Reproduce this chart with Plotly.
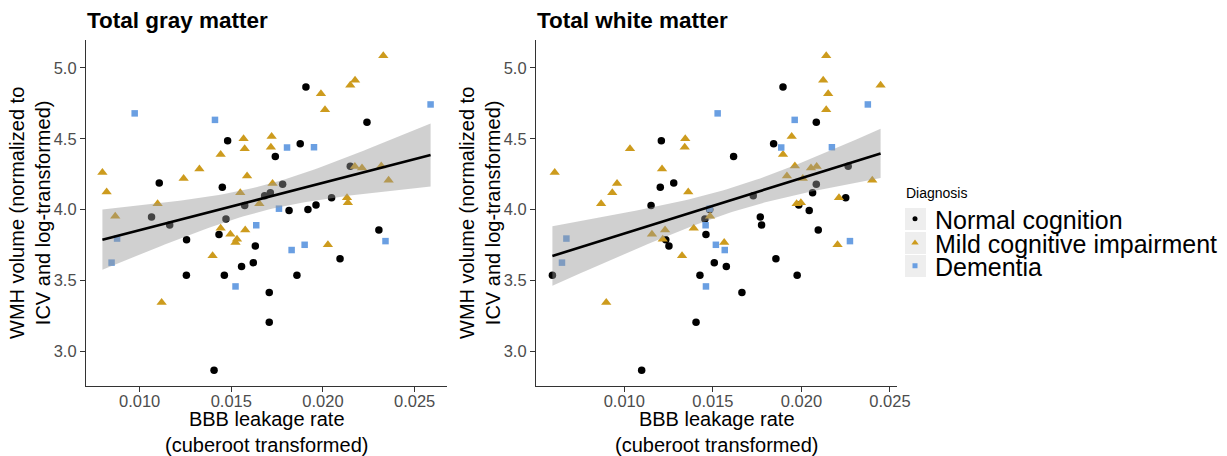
import numpy as np
import plotly.graph_objects as go

# ---------------- data ----------------
categories = ["Normal cognition", "Mild cognitive impairment", "Dementia"]

# Normal cognition
nc_gm = [0.01907, 0.01480, 0.01876, 0.01740, 0.01107, 0.01451, 0.01780, 0.01713,
         0.01682, 0.01573, 0.01815, 0.01918, 0.01065, 0.01471, 0.01164, 0.01256,
         0.01433, 0.01631, 0.01620, 0.01556, 0.01255, 0.01462, 0.01707, 0.01707,
         0.01406, 0.01858, 0.02240, 0.02149, 0.02047, 0.01962, 0.02305, 0.02093]
nc_wm = [0.01896, 0.01209, 0.01843, 0.01617, 0.01279, 0.01203, 0.02084, 0.02063,
         0.01728, 0.01151, 0.02044, 0.01482, 0.01768, 0.01455, 0.01775, 0.01234,
         0.01461, 0.01252, 0.01508, 0.01576, 0.00594, 0.01427, 0.01664, 0.01405,
         0.01098, 0.01976, 0.02084, 0.02264, 0.02250, 0.01985, 0.02095, 0.01856]
nc_wmh = [4.866, 4.485, 4.464, 4.375, 4.188, 4.158, 4.179, 4.118,
          4.097, 4.029, 3.994, 4.000, 3.947, 3.933, 3.891, 3.786,
          3.823, 3.742, 3.625, 3.597, 3.536, 3.536, 3.414, 3.204,
          2.865, 3.536, 4.616, 4.305, 4.083, 4.032, 3.856, 3.653]

# Mild cognitive impairment
mci_gm = [0.01567, 0.01720, 0.01573, 0.01716, 0.01442, 0.00797, 0.01326, 0.01240,
          0.01586, 0.00820, 0.01725, 0.01549, 0.01653, 0.01098, 0.00867, 0.01442,
          0.01495, 0.01531, 0.01523, 0.01576, 0.01398, 0.01120, 0.02329, 0.02175,
          0.02149, 0.01989, 0.02011, 0.02174, 0.02213, 0.02318, 0.02358, 0.02131,
          0.02136, 0.02027]
mci_wm = [0.01344, 0.01945, 0.01032, 0.01341, 0.01896, 0.00607, 0.01213, 0.02008,
          0.01918, 0.01361, 0.00959, 0.00932, 0.00869, 0.01973, 0.01484, 0.01392,
          0.01156, 0.01217, 0.01564, 0.01230, 0.01326, 0.00898, 0.02140, 0.02123,
          0.02447, 0.02151, 0.02140, 0.02086, 0.02054, 0.01963, 0.02400, 0.02212,
          0.01997, 0.02204]
mci_wmh = [4.499, 4.515, 4.430, 4.440, 4.389, 4.261, 4.286, 4.219,
           4.237, 4.123, 4.184, 4.118, 4.041, 4.041, 3.952, 3.868,
           3.826, 3.791, 3.767, 3.856, 3.674, 3.344, 5.086, 4.913,
           4.878, 4.817, 4.705, 4.303, 4.293, 4.307, 4.207, 4.083,
           4.048, 3.751]

# Dementia
dem_gm = [0.00973, 0.01411, 0.01804, 0.01760, 0.00877, 0.00847, 0.01636, 0.01523,
          0.01829, 0.01900, 0.01951, 0.02587, 0.02341]
dem_wm = [0.01527, 0.01962, 0.01886, 0.01482, 0.00673, 0.00648, 0.01459, 0.01461,
          0.01567, 0.01517, 0.02172, 0.02375, 0.02274]
dem_wmh = [4.679, 4.633, 4.438, 4.006, 3.795, 3.625, 3.889, 3.457,
           3.714, 3.751, 4.440, 4.742, 3.777]

x_ticks = [0.010, 0.015, 0.020, 0.025]
y_ticks = [3.0, 3.5, 4.0, 4.5, 5.0]
panel_titles = ["Total gray matter", "Total white matter"]
legend_title = "Diagnosis"

# ---------------- styling ----------------
colors = {"Normal cognition": "#000000",
          "Mild cognitive impairment": "#CD9B1D",
          "Dementia": "#6A9FE2"}
symbols = {"Normal cognition": "circle",
           "Mild cognitive impairment": "triangle-up",
           "Dementia": "square"}
sizes = {"Normal cognition": 7.5,
         "Mild cognitive impairment": 9,
         "Dementia": 6.5}
legend_sizes = {"Normal cognition": 5,
                "Mild cognitive impairment": 6.5,
                "Dementia": 5}
FONT = "Liberation Sans, Arial, sans-serif"

W, H = 1227, 456


def px_x(p):
    return p / W


def px_y(p):
    return 1 - p / H


def linfit_ci(x, y, t=1.9913, n_pts=80):
    x = np.asarray(x, float)
    y = np.asarray(y, float)
    n = len(x)
    b1, b0 = np.polyfit(x, y, 1)
    xs = np.linspace(x.min(), x.max(), n_pts)
    yh = b0 + b1 * xs
    s = np.sqrt(np.sum((y - (b0 + b1 * x)) ** 2) / (n - 2))
    sxx = np.sum((x - x.mean()) ** 2)
    se = s * np.sqrt(1.0 / n + (xs - x.mean()) ** 2 / sxx)
    return xs, yh, yh - t * se, yh + t * se


fig = go.Figure()

groups = [("Normal cognition", nc_gm, nc_wm, nc_wmh),
          ("Mild cognitive impairment", mci_gm, mci_wm, mci_wmh),
          ("Dementia", dem_gm, dem_wm, dem_wmh)]

for panel, (xa, ya) in enumerate([("x", "y"), ("x2", "y2")]):
    for name, gm, wm, wmh in groups:
        fig.add_trace(go.Scatter(
            x=gm if panel == 0 else wm, y=wmh, mode="markers", name=name,
            xaxis=xa, yaxis=ya, legendgroup=name, showlegend=False,
            marker=dict(color=colors[name], symbol=symbols[name], size=sizes[name],
                        line=dict(width=0)),
        ))
    all_x = (nc_gm + mci_gm + dem_gm) if panel == 0 else (nc_wm + mci_wm + dem_wm)
    all_y = nc_wmh + mci_wmh + dem_wmh
    xs, yh, lo, hi = linfit_ci(all_x, all_y)
    fig.add_trace(go.Scatter(x=np.concatenate([xs, xs[::-1]]),
                             y=np.concatenate([hi, lo[::-1]]),
                             fill="toself", fillcolor="rgba(150,150,150,0.45)",
                             line=dict(width=0), mode="lines", hoverinfo="skip",
                             showlegend=False, xaxis=xa, yaxis=ya))
    fig.add_trace(go.Scatter(x=xs, y=yh, mode="lines", line=dict(color="black", width=2.6),
                             showlegend=False, xaxis=xa, yaxis=ya, hoverinfo="skip"))

# legend entries (one legend per row so the row spacing matches)
legend_names = ["legend", "legend2", "legend3"]
row_centers = [219, 243, 266]
for i, name in enumerate(categories):
    fig.add_trace(go.Scatter(
        x=[None], y=[None], mode="markers", name=name, legend=legend_names[i],
        legendgroup=name, showlegend=True,
        marker=dict(color=colors[name], symbol=symbols[name], size=legend_sizes[name],
                    line=dict(width=0)),
    ))

# plot areas in pixels
L1, R1, L2, R2 = 86, 447, 536, 897
TOP, BOT = 40, 386

axis_common = dict(showline=True, linecolor="#333333", linewidth=1.2, ticks="outside",
                   ticklen=5, tickcolor="#333333", tickwidth=1.2, showgrid=False,
                   zeroline=False, tickfont=dict(family=FONT, size=16.5, color="#4D4D4D"))

all_wmh = nc_wmh + mci_wmh + dem_wmh
ymin, ymax = min(all_wmh), max(all_wmh)
ypad = 0.05 * (ymax - ymin)


def xr(vals):
    lo_, hi_ = min(vals), max(vals)
    pad = 0.05 * (hi_ - lo_)
    return [lo_ - pad, hi_ + pad]


LEG_X = 895
legend_common = dict(xanchor="left", yanchor="middle",
                     font=dict(family=FONT, size=25, color="black"),
                     bgcolor="rgba(0,0,0,0)", itemsizing="trace")

fig.update_layout(
    width=W, height=H, margin=dict(l=0, r=0, t=0, b=0, autoexpand=False),
    paper_bgcolor="white", plot_bgcolor="white",
    font=dict(family=FONT, color="black"),
    xaxis=dict(domain=[px_x(L1), px_x(R1)], range=xr(nc_gm + mci_gm + dem_gm),
               tickvals=x_ticks, tickformat=".3f", anchor="y", ticklabelstandoff=-5,
               **axis_common),
    yaxis=dict(domain=[px_y(BOT), px_y(TOP)], range=[ymin - ypad, ymax + ypad],
               tickvals=y_ticks, tickformat=".1f", anchor="x", **axis_common),
    xaxis2=dict(domain=[px_x(L2), px_x(R2)], range=xr(nc_wm + mci_wm + dem_wm),
                tickvals=x_ticks, tickformat=".3f", anchor="y2", ticklabelstandoff=-5,
                **axis_common),
    yaxis2=dict(domain=[px_y(BOT), px_y(TOP)], range=[ymin - ypad, ymax + ypad],
                tickvals=y_ticks, tickformat=".1f", anchor="x2", **axis_common),
    legend=dict(x=px_x(LEG_X), y=px_y(row_centers[0]), **legend_common),
    legend2=dict(x=px_x(LEG_X), y=px_y(row_centers[1]), **legend_common),
    legend3=dict(x=px_x(LEG_X), y=px_y(row_centers[2]), **legend_common),
)

# grey legend key backgrounds
shapes = []
for c in row_centers:
    shapes.append(dict(type="rect", xref="paper", yref="paper",
                       x0=px_x(905), x1=px_x(926), y0=px_y(c + 11), y1=px_y(c - 11),
                       fillcolor="#EEEEEE", line=dict(width=0), layer="below"))
fig.update_layout(shapes=shapes)

annotations = [dict(text=legend_title, xref="paper", yref="paper", x=px_x(904), y=px_y(193),
                    xanchor="left", yanchor="middle", showarrow=False,
                    font=dict(family=FONT, size=14, color="black"))]
for i, (l, r) in enumerate([(L1, R1), (L2, R2)]):
    annotations.append(dict(text="<b>" + panel_titles[i] + "</b>", xref="paper", yref="paper",
                            x=px_x(l - 1), y=px_y(20), xanchor="left", yanchor="middle",
                            showarrow=False, font=dict(family=FONT, size=22.5, color="black")))
    annotations.append(dict(text="BBB leakage rate<br>(cuberoot transformed)",
                            xref="paper", yref="paper", x=px_x((l + r) / 2), y=px_y(432),
                            xanchor="center", yanchor="middle", showarrow=False,
                            font=dict(family=FONT, size=20, color="black")))
    annotations.append(dict(text="WMH volume (normalized to<br>ICV and log-transformed)",
                            xref="paper", yref="paper", x=px_x(l - 56), y=px_y(213),
                            xanchor="center", yanchor="middle", textangle=-90, showarrow=False,
                            font=dict(family=FONT, size=20, color="black")))
fig.update_layout(annotations=annotations)

# the page's default 8px body margin would push the fixed-size figure off the window
fig.write_html("out.html", config={"displayModeBar": False},
               post_script="document.body.style.margin='0';document.body.style.overflow='hidden';")
